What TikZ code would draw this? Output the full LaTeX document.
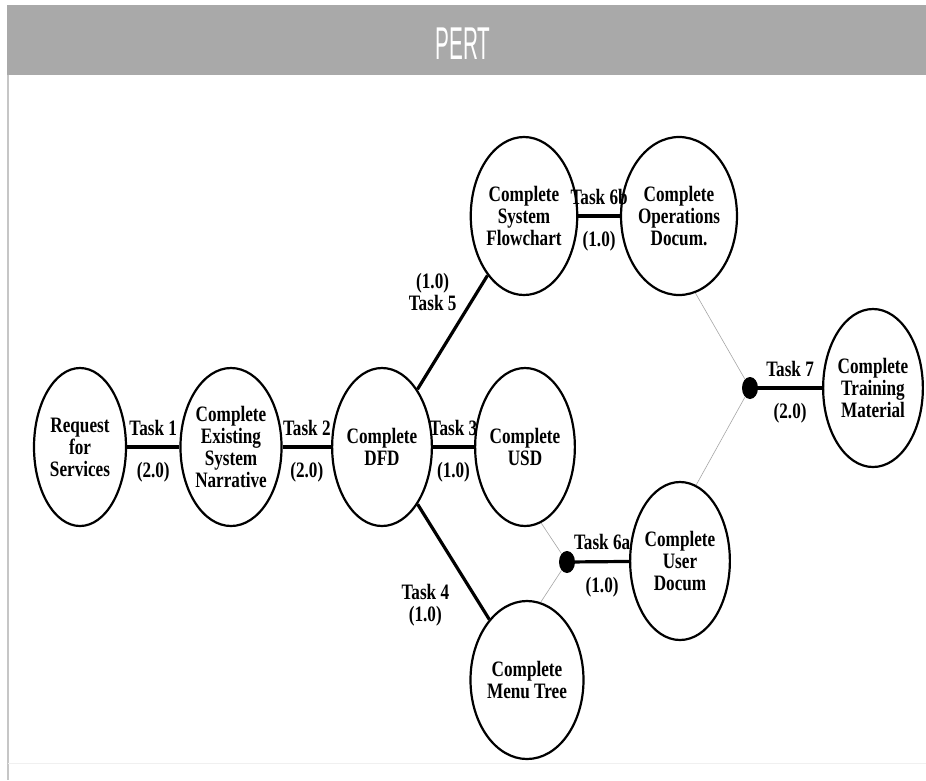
\documentclass[tikz,border=0pt]{standalone}
\usepackage{fontspec}
\setmainfont{Liberation Serif}
\newfontfamily\evtfamily[FakeStretch=0.78]{Liberation Serif}
\newfontfamily\titlefont[FakeStretch=0.45]{Liberation Sans}
\usetikzlibrary{shapes.geometric}
\definecolor{titlebar}{HTML}{A9A9A9}
\newcommand\evtfont{\evtfamily\fontsize{22}{22}\selectfont\bfseries}

\begin{document}
\begin{tikzpicture}[x=1pt,y=-1pt,node distance=151pt,
    event/.style={ellipse,draw,line width=2.2pt,minimum width=92pt,minimum height=158pt,inner sep=0pt,align=center,font=\evtfont},
    junction/.style={ellipse,fill=black,minimum width=16pt,minimum height=22pt,inner sep=0pt},
    task/.style={line width=3.2pt},
    dummy/.style={line width=0.6pt,gray!70},
    lbl/.style={font=\evtfont,inner sep=2pt},
    tasklbl/.style={lbl,above=8pt},
    durlbl/.style={lbl,below=12pt}]

                \useasboundingbox (0,0) rectangle (926,780);
                \fill[titlebar] (7,5) rectangle (926,75);
                \node[font=\titlefont\fontsize{46}{46}\selectfont,text=white] (title) at (463,44) {PERT};
                \draw[gray!45,line width=1.2pt] (8,75) -- (8,780);
                \draw[gray!12,line width=1pt] (8,763) -- (926,763);

                \node[event] (req) at (80,447) {Request\\for\\Services};
                \node[event] (narr) [right of = req] {Complete\\Existing\\System\\Narrative};
                \node[event] (dfd) [right of = narr] {Complete\\DFD};
                \node[event] (usd) [right of = dfd, node distance=143pt] {Complete\\USD};
                \node[event] (flow) at (524,216) {Complete\\System\\Flowchart};
                \node[event] (ops) [right of = flow, node distance=155pt] {Complete\\Operations\\Docum.};
                \node[event] (menu) at (527,680) {Complete\\Menu Tree};
                \node[event] (user) at (680,561) {Complete\\User\\Docum};
                \node[event] (train) at (873,388) {Complete\\Training\\Material};
                \node[junction] (j6) at (567,562) {};
                \node[junction] (j7) at (750,388) {};

                \draw[dummy] (usd.-78) -- (j6);
                \draw[dummy] (menu.80) -- (j6);
                \draw[dummy] (ops.-78) -- (j7);
                \draw[dummy] (user.78) -- (j7);

                \path[task]
                    (req) edge node[tasklbl]{Task 1} node[durlbl]{(2.0)} (narr)
                    (narr) edge node[tasklbl]{Task 2} node[durlbl]{(2.0)} (dfd)
                    (dfd) edge node[tasklbl]{Task 3} node[durlbl]{(1.0)} (usd)
                    (dfd) edge node[lbl,pos=0.85,left=17pt,align=center]{(1.0)\\Task 5} (flow)
                    (dfd) edge node[lbl,pos=0.88,left=28pt,align=center]{Task 4\\(1.0)} (menu)
                    (flow) edge node[tasklbl]{Task 6b} node[durlbl]{(1.0)} (ops)
                    (j6) edge node[tasklbl]{Task 6a} node[durlbl]{(1.0)} (user)
                    (j7) edge node[tasklbl]{Task 7} node[durlbl]{(2.0)} (train)
                ;
            \end{tikzpicture}
\end{document}
